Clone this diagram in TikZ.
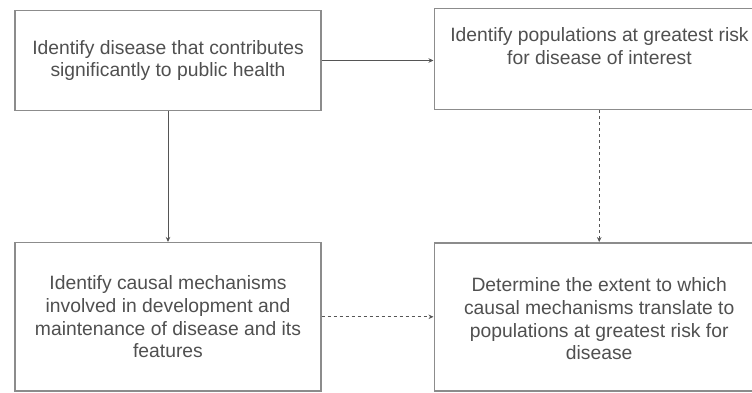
\documentclass[tikz,border=0pt]{standalone}
\usepackage{fontspec}
\setmainfont{Liberation Sans}
\usetikzlibrary{arrows.meta}
\definecolor{boxline}{HTML}{8C8C8C}
\definecolor{txt}{HTML}{505050}
\definecolor{conn}{HTML}{555555}
\tikzset{
  stepbox/.style={draw=boxline, line width=1.4pt, rectangle, inner sep=0pt, fill=white},
  boxtext/.style={text=txt, align=center, font=\fontsize{19.3}{22.8}\selectfont, inner sep=0pt},
  conline/.style={draw=conn, line width=1pt, -{Stealth[length=5pt,width=4.5pt]}},
  dashline/.style={conline, dash pattern=on 3pt off 3pt}
}
\begin{document}
\begin{tikzpicture}[x=1pt,y=-1pt]
\useasboundingbox (0,0) rectangle (752,393);
\begin{scope}
\clip (0,0) rectangle (752,393);
\node[stepbox, minimum width=306pt, minimum height=100.5pt] (box1) at (168,60.5) {};
\node[boxtext] (t1) at (box1) {Identify disease that contributes\\significantly to public health};
\node[stepbox, minimum width=330pt, minimum height=101pt] (box2) at (599.2,59) {};
\node[boxtext] (t2) at (599.5,46) {Identify populations at greatest risk\\for disease of interest};
\node[stepbox, minimum width=306pt, minimum height=148.3pt] (box3) at (168,316.8) {};
\node[boxtext] (t3) at (box3) {Identify causal mechanisms\\involved in development and\\maintenance of disease and its\\features};
\node[stepbox, minimum width=330pt, minimum height=148pt] (box4) at (599.2,316.8) {};
\node[boxtext] (t4) at ([yshift=-2pt]box4.center) {Determine the extent to which\\causal mechanisms translate to\\populations at greatest risk for\\disease};
\draw[conline] (box1.east) -- (box2.west |- box1.east);
\draw[conline] (box1.south) -- (box3.north);
\draw[dashline] (box2.south) -- (box4.north);
\draw[dashline] (box3.east) -- (box4.west);
\end{scope}
\end{tikzpicture}
\end{document}
